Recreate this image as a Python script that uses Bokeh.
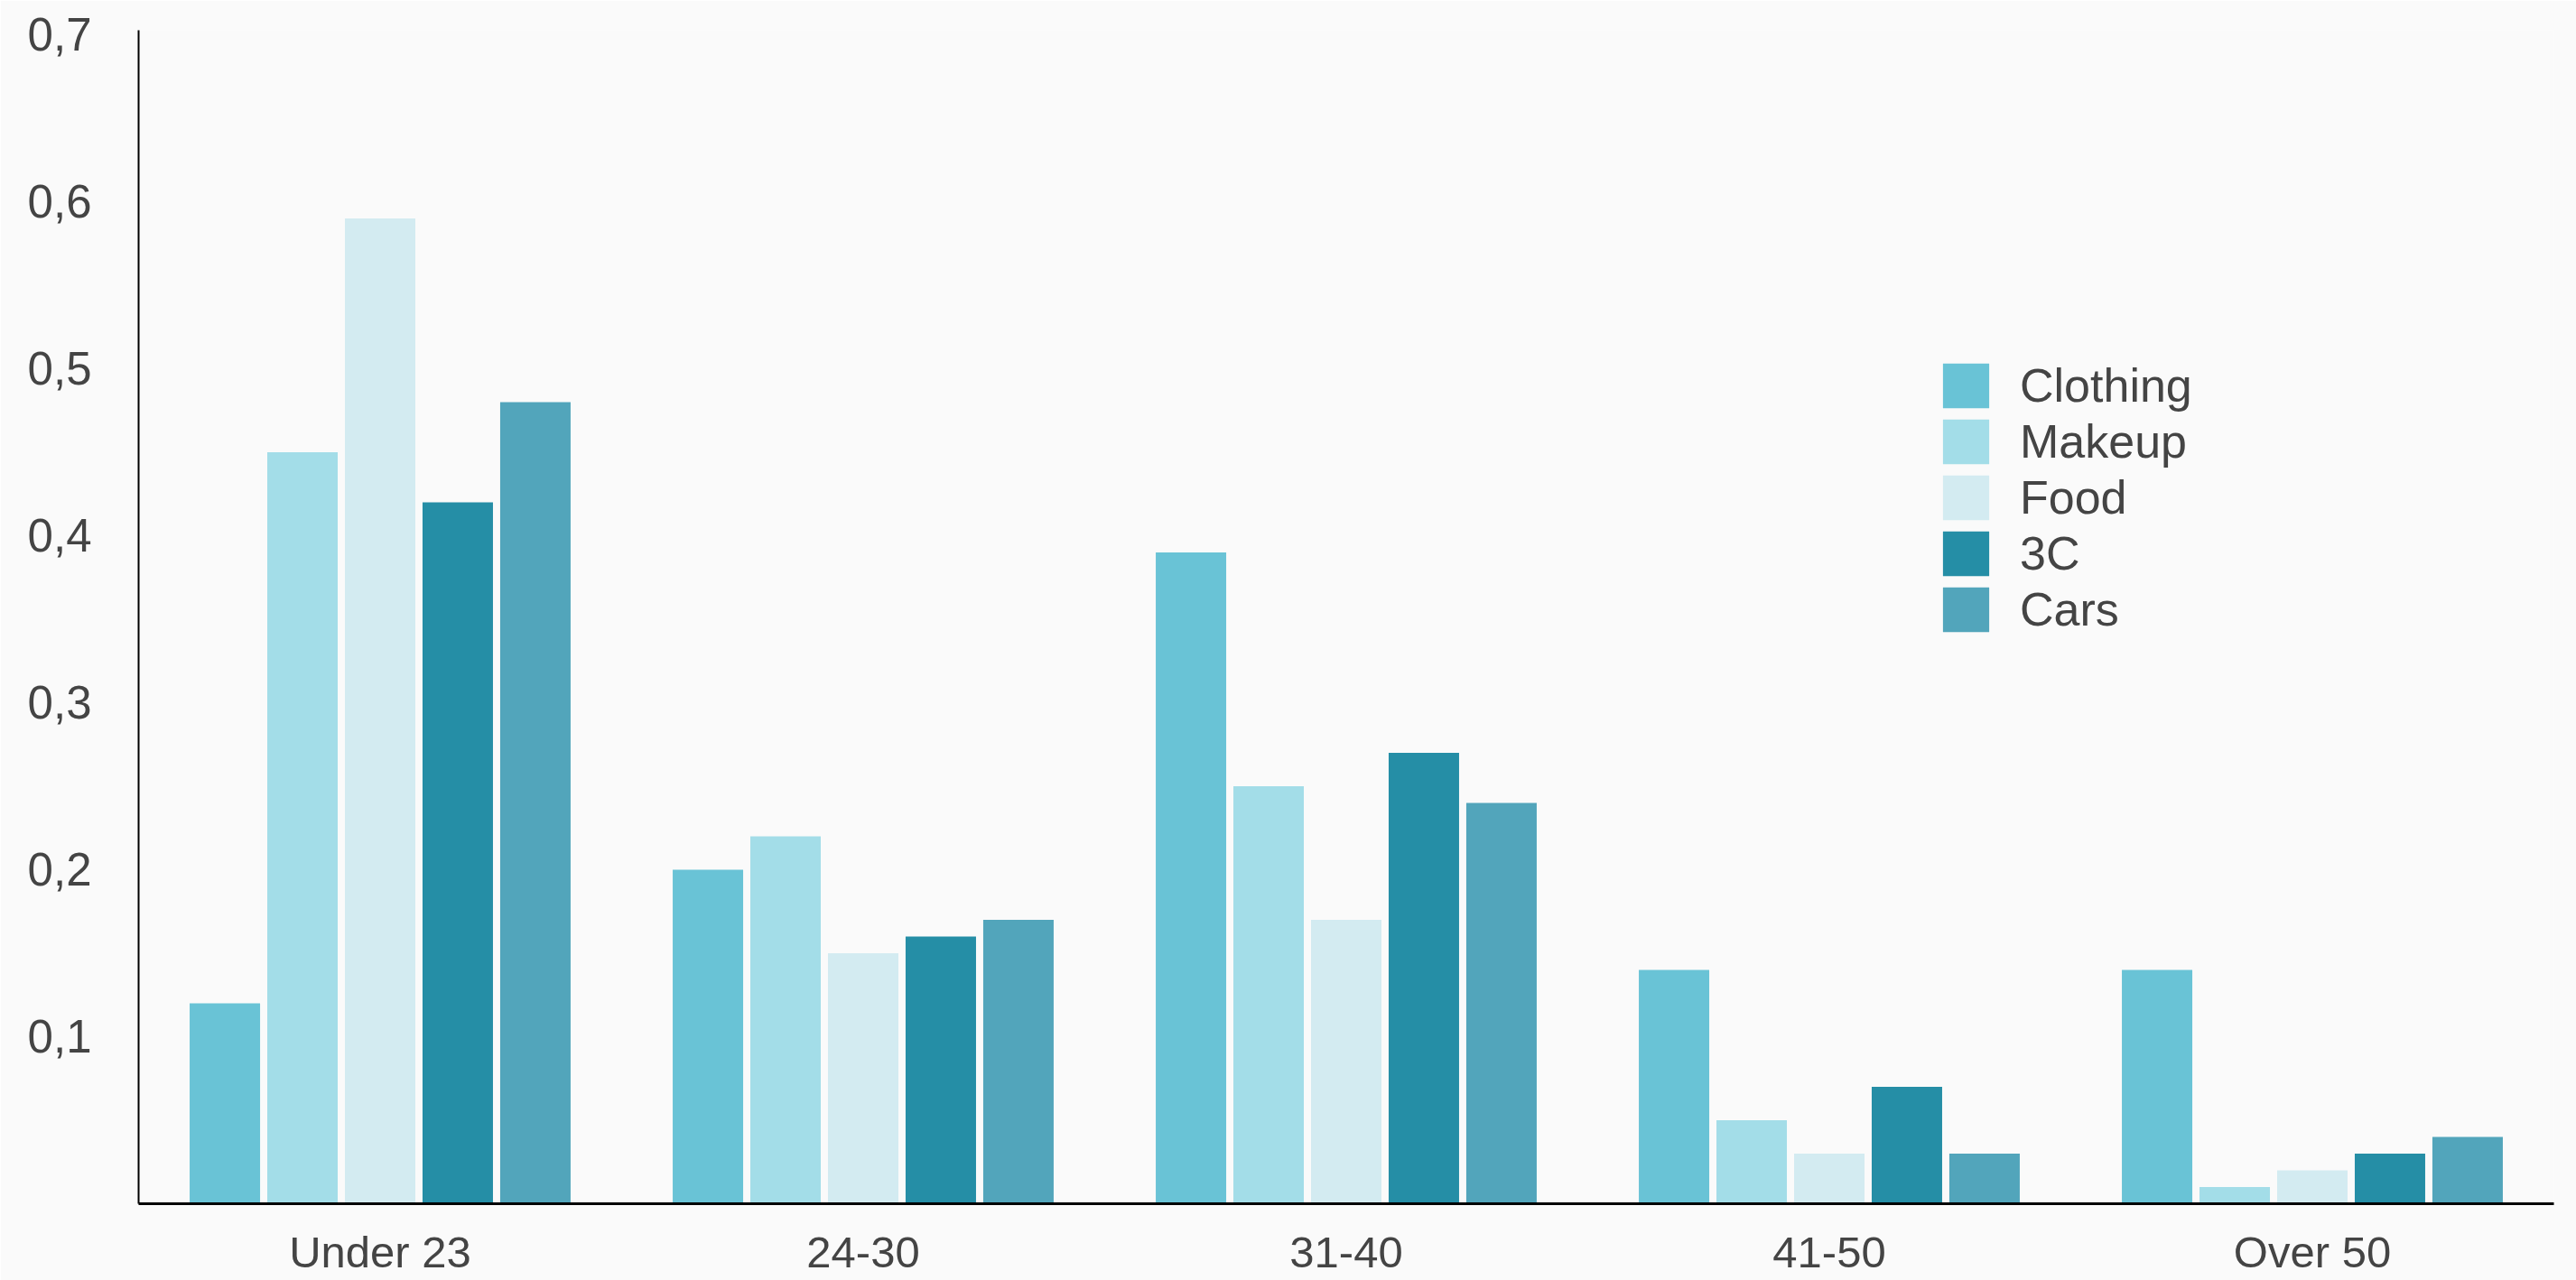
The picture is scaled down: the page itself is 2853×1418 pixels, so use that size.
from bokeh.plotting import figure
from bokeh.models import (ColumnDataSource, FactorRange, Range1d, FixedTicker,
                          CustomJSTickFormatter, Legend, LegendItem)
from bokeh.transform import dodge
from bokeh.embed import file_html
from bokeh.resources import INLINE

# ---- data ----
categories = ["Under 23", "24-30", "31-40", "41-50", "Over 50"]
series_names = ["Clothing", "Makeup", "Food", "3C", "Cars"]
clothing = [0.12, 0.20, 0.39, 0.14, 0.14]
makeup = [0.45, 0.22, 0.25, 0.05, 0.01]
food = [0.59, 0.15, 0.17, 0.03, 0.02]
tech_3c = [0.42, 0.16, 0.27, 0.07, 0.03]
cars = [0.48, 0.17, 0.24, 0.03, 0.04]
y_ticks = [0.1, 0.2, 0.3, 0.4, 0.5, 0.6, 0.7]
y_tick_labels = ["0,1", "0,2", "0,3", "0,4", "0,5", "0,6", "0,7"]

series_values = [clothing, makeup, food, tech_3c, cars]
colors = ["#69C3D6", "#A3DDE8", "#D3EBF1", "#258EA6", "#52A5BB"]

source = ColumnDataSource(data=dict(cat=categories, **{n: v for n, v in zip(series_names, series_values)}))

BG = "#fafafa"
TXT = "#444444"
FONT = "Liberation Sans"

p = figure(x_range=FactorRange(*categories), y_range=Range1d(0, 0.7027),
           width=2853, height=1418, output_backend="svg", toolbar_location=None,
           min_border_left=153, min_border_right=25, min_border_top=33, min_border_bottom=85)
p.background_fill_color = BG
p.border_fill_color = BG
p.outline_line_color = None
p.xgrid.visible = False
p.ygrid.visible = False

bar_w = 0.1458
pitch = 0.1607
renderers = []
for i, (name, col) in enumerate(zip(series_names, colors)):
    r = p.vbar(x=dodge("cat", (i - 2) * pitch, range=p.x_range), top=name, width=bar_w,
               source=source, fill_color=col, line_color=None)
    renderers.append(r)

# y axis
p.yaxis.ticker = FixedTicker(ticks=y_ticks)
p.yaxis.formatter = CustomJSTickFormatter(args=dict(yt=y_ticks, yl=y_tick_labels), code="""
    for (let i = 0; i < yt.length; i++) {
        if (Math.abs(yt[i] - tick) < 1e-9) { return yl[i]; }
    }
    return '';
""")
p.yaxis.axis_line_color = "black"
p.yaxis.axis_line_width = 2
p.yaxis.major_tick_line_color = None
p.yaxis.minor_tick_line_color = None
p.yaxis.major_label_standoff = 46
p.yaxis.major_label_text_font = FONT
p.yaxis.major_label_text_font_size = "51px"
p.yaxis.major_label_text_color = TXT

# x axis
p.xaxis.axis_line_color = "black"
p.xaxis.axis_line_width = 3
p.xaxis.major_tick_line_color = None
p.xaxis.minor_tick_line_color = None
p.xaxis.major_label_standoff = 20
p.xaxis.major_label_text_font = FONT
p.xaxis.major_label_text_font_size = "49px"
p.xaxis.major_label_text_color = TXT

legend = Legend(items=[LegendItem(label=n, renderers=[r]) for n, r in zip(series_names, renderers)],
                location=(1992, 627), glyph_width=64, glyph_height=62, label_standoff=28,
                spacing=0, padding=0, margin=0, border_line_color=None,
                background_fill_alpha=0, label_text_font=FONT, label_text_font_size="52px",
                label_text_color=TXT, label_height=51)
p.add_layout(legend)

open("out.html", "w").write(file_html(p, INLINE))
